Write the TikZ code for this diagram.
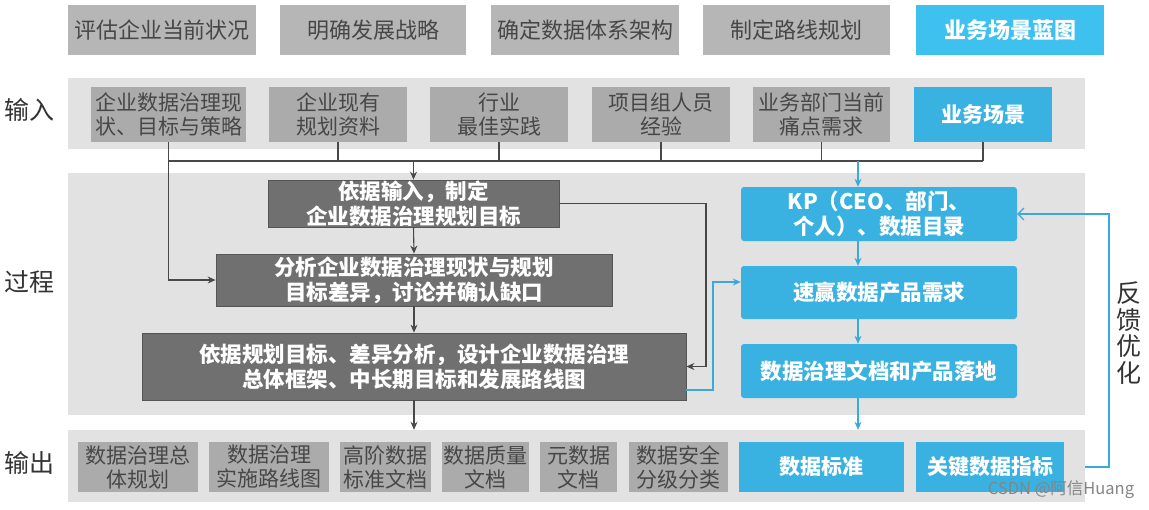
\documentclass[tikz,border=0pt]{standalone}
\usepackage{fontspec}
\setmainfont{Noto Sans CJK SC}
\usetikzlibrary{arrows.meta}
\definecolor{topgray}{HTML}{B6B6B6}
\definecolor{topblue}{HTML}{3FC1F0}
\definecolor{boxgray}{HTML}{ABABAB}
\definecolor{panelc}{HTML}{E2E2E2}
\definecolor{darkbox}{HTML}{707070}
\definecolor{darkedge}{HTML}{555555}
\definecolor{blu}{HTML}{39B1E1}
\definecolor{txtgray}{HTML}{474747}
\definecolor{linec}{HTML}{484848}
\definecolor{blinec}{HTML}{3AA9DB}
\definecolor{labc}{HTML}{333333}
\begin{document}
\begin{tikzpicture}[x=1pt,y=-1pt,
  base/.style={inner sep=0pt, align=center, font=\fontsize{21}{24}\selectfont},
  topbox/.style={base, fill=topgray, text=txtgray, minimum height=50pt, font=\fontsize{22}{26}\selectfont},
  topbluebox/.style={base, fill=topblue, text=white, minimum height=50pt, font=\fontsize{22}{26}\selectfont\bfseries},
  panelbox/.style={inner sep=0pt, fill=panelc},
  graybox/.style={base, fill=boxgray, text=txtgray},
  bluebox/.style={base, fill=blu, text=white, font=\fontsize{21}{24}\selectfont\bfseries},
  darkbox/.style={base, fill=darkbox, draw=darkedge, line width=0.8pt, text=white, font=\fontsize{21.5}{25}\selectfont\bfseries},
  rbluebox/.style={bluebox, rounded corners=3pt, minimum width=276pt, font=\fontsize{21.5}{25}\selectfont\bfseries},
  lab/.style={inner sep=0pt, text=labc, font=\fontsize{25}{27}\selectfont},
  conn/.style={draw=linec, line width=1.1pt},
  bconn/.style={draw=blinec, line width=1.1pt},
  tip/.style={-{Stealth[length=8pt,width=7pt]}},
]
\useasboundingbox (0,0) rectangle (1149,509);

% top row
\node[topbox, minimum width=188pt] (t1) at (162,30) {评估企业当前状况};
\node[topbox, minimum width=186pt] (t2) at (373,30) {明确发展战略};
\node[topbox, minimum width=188pt] (t3) at (585,30) {确定数据体系架构};
\node[topbox, minimum width=187pt] (t4) at (796.5,30) {制定路线规划};
\node[topbluebox, minimum width=188pt] (t5) at (1010,30) {业务场景蓝图};

% panels
\node[panelbox, minimum width=1017pt, minimum height=71pt] (IP) at (576.5,113.5) {};
\node[panelbox, minimum width=1017pt, minimum height=242pt] (PP) at (576.5,294) {};
\node[panelbox, minimum width=1017pt, minimum height=72pt] (OP) at (576.5,466) {};

% side labels
\node[lab] (lin) at (30,110) {输入};
\node[lab] (lproc) at (30,282) {过程};
\node[lab] (lout) at (30,463) {输出};

% input boxes
\node[graybox, minimum width=155pt, minimum height=55pt] (i1) at (168.5,114.5) {企业数据治理现\\状、目标与策略};
\node[graybox, minimum width=138pt, minimum height=55pt] (i2) at (338,114.5) {企业现有\\规划资料};
\node[graybox, minimum width=138pt, minimum height=55pt] (i3) at (499,114.5) {行业\\最佳实践};
\node[graybox, minimum width=138pt, minimum height=55pt] (i4) at (661,114.5) {项目组人员\\经验};
\node[graybox, minimum width=137pt, minimum height=55pt] (i5) at (821.5,114.5) {业务部门当前\\痛点需求};
\node[bluebox, minimum width=138pt, minimum height=55pt] (i6) at (983,114.5) {业务场景};

% process boxes
\node[darkbox, minimum width=291pt, minimum height=47pt] (p1) at (413.5,203.5) {依据输入，制定\\企业数据治理规划目标};
\node[darkbox, minimum width=396pt, minimum height=52pt] (p2) at (414,280) {分析企业数据治理现状与规划\\目标差异，讨论并确认缺口};
\node[darkbox, minimum width=544pt, minimum height=67pt] (p3) at (414,366.5) {依据规划目标、差异分析，设计企业数据治理\\总体框架、中长期目标和发展路线图};

\node[rbluebox, minimum height=54pt] (b1) at (879,214) {KP（CEO、部门、\\个人）、数据目录};
\node[rbluebox, minimum height=53pt] (b2) at (879,292.5) {速赢数据产品需求};
\node[rbluebox, minimum height=54pt] (b3) at (879,371) {数据治理文档和产品落地};

% output boxes
\node[graybox, minimum width=120pt, minimum height=50pt] (o1) at (138,467) {数据治理总\\体规划};
\node[graybox, minimum width=120pt, minimum height=50pt] (o2) at (269,467) {数据治理\\实施路线图};
\node[graybox, minimum width=91pt, minimum height=50pt] (o3) at (385.5,467) {高阶数据\\标准文档};
\node[graybox, minimum width=87pt, minimum height=50pt] (o4) at (485.5,467) {数据质量\\文档};
\node[graybox, minimum width=77pt, minimum height=50pt] (o5) at (578.5,467) {元数据\\文档};
\node[graybox, minimum width=99pt, minimum height=50pt] (o6) at (678.5,467) {数据安全\\分级分类};
\node[bluebox, minimum width=165pt, minimum height=50pt] (o7) at (821.5,467) {数据标准};
\node[bluebox, minimum width=148pt, minimum height=50pt] (o8) at (990,467) {关键数据指标};

% feedback label
\node[lab, align=center, font=\fontsize{25}{26.5}\selectfont] (fb) at (1129,333) {反\\馈\\优\\化};

% watermark
\node[inner sep=0pt, text=black!48, font=\fontsize{16.5}{18}\selectfont] (wm) at (1061,490) {CSDN @阿信Huang};

% helper coordinates
\coordinate (bus) at (0,161);
\coordinate (r1) at (706,0);
\coordinate (r2) at (713,0);
\coordinate (r3) at (1109,0);

% input bus
\draw[conn] (i1.south |- bus) -- (i6.south |- bus);
\foreach \n in {i2,i3,i4,i5,i6} \draw[conn] (\n.south) -- (\n.south |- bus);
\draw[conn, tip] (i1.south) |- (p2.west);
\draw[conn, tip] (p1.north |- bus) -- (p1.north);

% process chain
\draw[conn, tip] (p1.south) -- (p2.north);
\draw[conn, tip] (p2.south) -- (p3.north);
\draw[conn, tip] (p3.south) -- (p3.south |- OP.north);
\draw[conn, tip] (p1.east) -- (p1.east -| r1) |- (p3.east);

% blue chain
\draw[bconn, tip] ([xshift=-21pt]b1.north |- bus) -- ([xshift=-21pt]b1.north);
\draw[bconn, tip] ([xshift=-21pt]b1.south) -- ([xshift=-21pt]b2.north);
\draw[bconn, tip] ([xshift=-21pt]b2.south) -- ([xshift=-21pt]b3.north);
\draw[bconn, tip] ([xshift=-21pt]b3.south) -- ([xshift=-21pt]b3.south |- OP.north);
\draw[bconn, tip] ([yshift=-23.5pt]p3.east) -- ([yshift=-23.5pt]p3.east -| r2) |- ([yshift=10.5pt]b2.west);

% feedback loop
\draw[bconn, -{Straight Barb[length=6pt,width=12pt]}] (OP.east |- o8.east) -- (o8.east -| r3) |- (b1.east);
\end{tikzpicture}
\end{document}
